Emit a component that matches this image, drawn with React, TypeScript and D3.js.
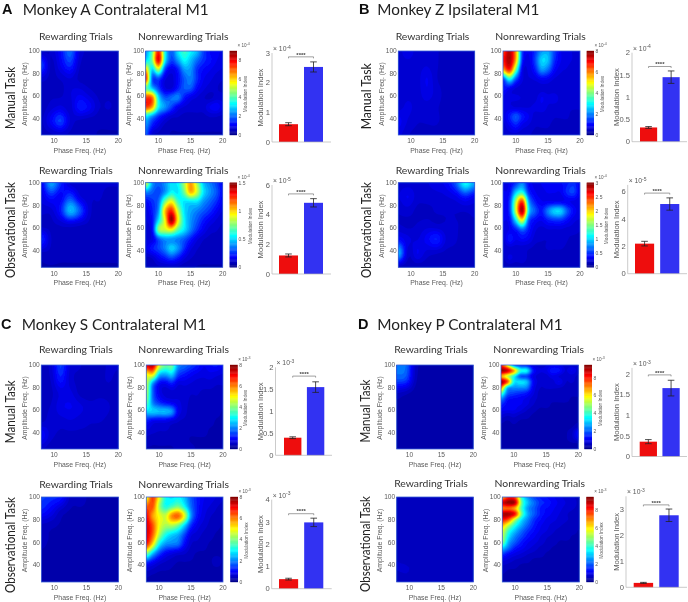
import React, { useMemo } from "react";
import * as d3 from "d3";

// ---------- data (values are % of each colourbar's range) ----------
const rewardA1 = [[8,9,16,26,11,8,7,7,7],[22,8,14,20,9,8,8,8,8],[10,8,9,11,8,7,7,7,8],[7,8,8,11,13,10,8,8,8],[7,10,12,10,18,15,9,9,8],[8,15,22,11,8,7,7,7,7],[7,8,9,8,7,7,6,6,6]];
const nonA1 = [[30,48,85,42,24,38,45,40,34,22,16,15,13],[38,50,90,40,22,30,40,34,26,20,17,14,12],[70,36,55,22,13,18,30,30,20,16,14,12,11],[85,25,22,12,10,16,24,28,20,14,12,10,9],[50,35,22,12,11,18,24,24,16,12,10,9,8],[82,78,38,24,26,28,18,13,11,9,8,10,10],[82,72,40,30,22,14,11,10,10,10,14,16,12],[40,30,20,14,10,9,8,8,8,8,9,9,8],[30,18,12,8,7,7,7,7,7,7,7,7,7],[25,10,8,7,6,6,6,6,6,6,6,6,6]];
const rewardA2 = [[14,32,20,10,9,9,9,9,9],[12,18,15,22,12,9,9,8,8],[10,10,18,34,24,10,8,8,8],[7,8,9,10,9,8,7,7,7],[20,9,8,8,8,8,8,8,7],[8,8,7,7,7,7,7,7,7],[6,6,6,6,6,6,6,6,6]];
const nonA2 = [[62,32,25,30,38,40,55,72,55,35,28,22,15],[30,25,22,30,40,38,50,70,58,38,30,24,16],[16,20,26,50,62,45,38,38,38,30,25,20,14],[12,18,30,68,85,58,38,32,28,24,20,15,11],[11,16,38,62,98,64,40,30,24,18,14,11,9],[10,15,52,58,62,48,38,28,20,14,10,9,8],[11,12,24,30,30,28,24,18,12,9,8,8,7],[13,18,22,28,36,30,20,12,9,8,7,7,7],[8,9,14,18,22,18,12,9,8,7,7,7,7],[6,7,8,8,8,8,7,7,6,6,6,6,6]];
const rewardB1 = [[10,13,10,10,9,8,8,8,8],[10,10,10,11,9,8,8,8,8],[9,9,10,14,9,8,8,8,8],[9,10,10,13,10,8,8,8,8],[10,12,10,10,9,8,8,8,8],[15,11,9,9,9,8,8,8,8],[12,9,8,8,8,7,7,7,7]];
const nonB1 = [[80,95,72,22,14,20,30,32,22,14,12,11,10],[85,96,70,20,13,22,36,34,20,14,12,11,10],[70,85,50,14,12,18,30,26,16,12,11,10,10],[22,42,24,12,11,12,15,14,11,10,10,10,9],[18,15,11,10,10,9,10,10,9,9,9,9,9],[13,12,12,11,10,10,14,12,13,10,9,9,9],[12,12,11,11,11,12,13,11,10,10,9,9,9],[12,18,24,18,14,10,10,10,9,9,9,8,8],[10,14,18,13,11,9,9,9,8,8,8,8,8],[9,10,10,9,9,8,8,8,8,8,8,7,7]];
const rewardB2 = [[10,10,10,11,13,15,24,42,32],[11,14,10,10,10,11,13,18,14],[9,10,8,8,9,9,9,9,10],[9,8,9,10,9,9,9,8,8],[16,12,11,15,19,11,9,8,8],[34,10,14,10,9,8,8,8,8],[7,7,7,7,7,7,7,7,7]];
const nonB2 = [[12,14,20,28,16,13,14,16,16,16,18,20,14],[14,16,35,42,20,14,13,14,14,14,20,22,14],[14,20,55,82,32,18,14,14,14,14,14,13,12],[14,20,58,96,38,24,18,28,36,36,24,16,12],[14,16,38,62,24,16,14,18,20,20,16,12,11],[11,14,18,26,18,12,10,11,11,11,10,10,9],[10,18,14,16,14,10,9,9,11,11,9,8,8],[9,10,10,10,9,8,8,9,9,9,8,8,8],[8,12,10,11,8,8,7,7,7,7,7,7,7],[7,7,7,7,7,7,7,7,7,7,7,7,7]];
const rewardC1 = [[8,10,22,11,9,8,8,9,9],[8,9,18,10,8,8,8,9,8],[7,8,12,12,8,7,8,8,7],[8,9,13,14,12,10,10,9,7],[8,10,10,11,10,9,9,8,7],[16,10,8,8,8,8,7,7,7],[9,7,7,7,7,7,7,7,7]];
const nonC1 = [[90,95,62,50,50,30,26,22,18,14,16,17,14],[62,65,36,32,36,22,18,15,13,12,13,12,11],[58,30,16,14,18,12,12,11,10,10,10,9,9],[56,26,14,10,10,10,10,9,9,8,8,8,8],[50,28,20,16,14,12,10,8,8,7,7,7,7],[36,36,34,34,30,14,10,7,7,7,7,7,6],[18,14,13,13,11,9,8,7,7,7,7,6,6],[11,10,9,9,8,8,7,7,7,7,6,6,6],[8,7,7,7,7,7,7,6,6,6,6,6,6],[6,6,6,6,6,7,8,7,6,6,6,6,6]];
const rewardC2 = [[22,20,18,8,7,6,6,6,6],[18,14,8,6,6,6,6,6,6],[8,7,6,6,6,5,5,5,5],[7,6,6,6,5,5,5,5,5],[6,6,6,5,5,5,5,5,5],[6,6,5,5,5,5,5,5,5],[5,5,5,5,5,5,5,5,5]];
const nonC2 = [[60,82,62,42,38,40,34,24,18,14,13,11,9],[78,80,55,42,46,50,40,26,18,13,11,9,8],[88,72,62,58,74,78,60,30,17,12,9,8,7],[92,80,62,55,56,50,36,20,13,10,8,7,6],[92,78,56,42,36,32,22,12,10,8,7,6,6],[85,65,40,30,28,26,16,9,8,7,6,6,6],[52,34,22,15,12,10,9,7,6,6,6,6,6],[18,14,10,8,7,6,6,6,6,6,6,7,6],[8,7,6,6,6,6,5,5,5,5,5,5,5],[6,5,5,5,5,5,5,5,5,5,5,5,5]];
const rewardD1 = [[28,26,8,6,5,5,5,5,5],[24,22,7,5,5,5,5,5,5],[9,7,5,5,5,5,5,5,5],[5,5,5,5,5,5,5,5,5],[5,5,5,5,5,5,5,5,5],[5,5,5,5,5,5,5,5,5],[5,5,5,5,5,5,5,5,5]];
const nonD1 = [[85,60,28,20,18,12,10,11,14,13,10,10,9],[98,92,72,44,40,18,12,13,18,17,11,14,10],[72,58,42,24,22,13,10,10,13,11,9,10,8],[98,80,40,38,34,16,10,10,10,14,9,9,8],[76,36,30,30,28,14,9,9,9,9,8,8,7],[50,26,22,20,18,12,8,8,8,8,7,7,7],[30,18,16,15,13,10,8,7,7,7,7,6,6],[20,15,14,14,12,9,7,7,6,6,6,6,6],[15,14,14,12,9,7,6,6,6,6,6,6,6],[11,9,10,8,7,6,6,6,6,6,6,6,6],[7,6,7,6,6,6,6,6,6,6,6,6,6],[6,6,6,6,6,6,6,6,6,6,6,6,8],[6,6,6,6,6,6,6,6,6,6,6,8,16],[6,6,6,6,6,6,6,6,6,6,6,8,14],[6,6,6,6,6,6,6,6,6,6,6,6,6],[6,6,6,6,6,6,6,6,6,6,6,6,6]];
const rewardD2 = [[8,8,8,8,7,7,7,7,7],[7,7,7,7,7,7,7,7,7],[7,7,7,7,8,7,7,7,7],[7,7,7,7,8,8,7,7,7],[8,7,7,7,7,7,7,7,7],[9,9,8,7,7,7,7,7,7],[7,8,7,7,7,7,7,7,7]];
const nonD2 = [[70,85,80,45,30,22,18,16,14,12,10,9,8],[92,98,94,50,34,26,20,18,15,13,11,10,8],[76,78,70,46,30,24,18,16,14,12,10,9,8],[96,96,86,50,32,24,18,15,13,11,9,8,7],[86,78,56,38,28,20,16,13,12,10,9,8,7],[70,56,42,32,24,18,14,12,10,9,8,7,7],[60,44,34,26,20,16,13,11,9,8,7,7,6],[56,38,28,22,17,14,11,9,8,7,7,6,6],[52,32,24,18,14,12,10,8,7,6,6,6,6],[36,26,18,15,12,10,8,7,6,6,6,6,6],[22,16,13,11,9,8,7,6,6,6,6,6,6],[13,11,9,8,7,6,6,6,6,6,6,6,6],[9,8,7,6,6,6,6,6,6,6,6,6,6],[7,6,6,6,6,6,6,6,6,6,6,6,6],[6,6,6,6,6,6,6,6,6,6,6,6,6],[6,6,6,6,6,6,6,6,6,6,6,6,6]];

const barCategories = ["Rewarding", "Nonrewarding"];
const barsA1 = [0.6, 2.53]; const errA1 = [0.05, 0.17];
const barsA2 = [1.25, 4.8]; const errA2 = [0.1, 0.28];
const barsB1 = [0.32, 1.45]; const errB1 = [0.02, 0.14];
const barsB2 = [2.2, 5.1]; const errB2 = [0.17, 0.45];
const barsC1 = [0.4, 1.55]; const errC1 = [0.02, 0.12];
const barsC2 = [0.43, 2.98]; const errC2 = [0.04, 0.19];
const barsD1 = [0.36, 1.66]; const errD1 = [0.05, 0.19];
const barsD2 = [0.17, 2.77]; const errD2 = [0.02, 0.24];

const panelTitles = ["Monkey A Contralateral M1", "Monkey Z Ipsilateral M1", "Monkey S Contralateral M1", "Monkey P Contralateral M1"];
const panelLetters = ["A", "B", "C", "D"];
const rowLabels = ["Manual Task", "Observational Task"];
const mapTitles = ["Rewarding Trials", "Nonrewarding Trials"];
const phaseTicks = [10, 15, 20];
const ampTicks = [40, 60, 80, 100];

const LS = "'Liberation Sans', Arial, sans-serif";
const TF = "Lato, 'Open Sans', sans-serif";
const GREY = "#5a5a5a";

const jet = d3.scaleLinear<string>()
  .domain([0, 12.5, 37.5, 62.5, 87.5, 100])
  .range(["#000084", "#0000ff", "#00ffff", "#ffff00", "#ff0000", "#800000"])
  .clamp(true);
const heatColor = d3.scaleLinear<string>()
  .domain([0, 16, 40, 62.5, 87.5, 100])
  .range(["#000084", "#0000ff", "#00ffff", "#ffff00", "#ff0000", "#800000"])
  .clamp(true);

const levels = d3.range(1.25, 100, 2.5);

function cr(p0: number, p1: number, p2: number, p3: number, t: number) {
  return 0.5 * (2 * p1 + (p2 - p0) * t + (2 * p0 - 5 * p1 + 4 * p2 - p3) * t * t + (3 * p1 - p0 - 3 * p2 + p3) * t * t * t);
}
// display-only resampling of a coarse grid, so d3.contours draws smooth bands
function resample(grid: number[][], k: number) {
  const R = grid.length, C = grid[0].length;
  const W = (C - 1) * k + 1, H = (R - 1) * k + 1;
  const at = (r: number, c: number) => grid[Math.max(0, Math.min(R - 1, r))][Math.max(0, Math.min(C - 1, c))];
  const out = new Array(W * H);
  for (let j = 0; j < H; j++) {
    const ry = j / k, r = Math.min(R - 2, Math.floor(ry)), ty = ry - r;
    for (let i = 0; i < W; i++) {
      const cx = i / k, c = Math.min(C - 2, Math.floor(cx)), tx = cx - c;
      const rows = [-1, 0, 1, 2].map((d) => cr(at(r + d, c - 1), at(r + d, c), at(r + d, c + 1), at(r + d, c + 2), tx));
      out[j * W + i] = cr(rows[0], rows[1], rows[2], rows[3], ty);
    }
  }
  return { values: out, W, H };
}

function Heat({ id, grid, x0, x1, y0, y1, yLabelOffset = 17, title, titleDx, titleDy }: any) {
  const xs = d3.scaleLinear().domain([8, 20]).range([x0, x1]);
  const ys = d3.scaleLinear().domain([25, 100]).range([y1, y0]);
  const paths = useMemo(() => {
    const { values, W, H } = resample(grid, 4);
    const cs = d3.contours().size([W, H]).thresholds(levels)(values);
    const px = d3.scaleLinear().domain([0.5, W - 0.5]).range([8, 20]);
    const py = d3.scaleLinear().domain([0.5, H - 0.5]).range([100, 25]);
    const path = d3.geoPath(d3.geoTransform({
      point(this: any, x: number, y: number) { this.stream.point(xs(px(x)), ys(py(y))); },
    }));
    return cs.map((c) => ({ d: path(c as any) || "", v: c.value + 1.25 }));
  }, [grid, x0, x1, y0, y1]);
  return (
    <g>
      <clipPath id={id}><rect x={x0} y={y0} width={x1 - x0} height={y1 - y0} /></clipPath>
      <g clipPath={`url(#${id})`}>
        <rect x={x0} y={y0} width={x1 - x0} height={y1 - y0} fill={heatColor(0)} />
        {paths.map((p, i) => <path key={i} d={p.d} fill={heatColor(p.v)} />)}
      </g>
      <rect x={x0} y={y0} width={x1 - x0} height={y1 - y0} fill="none" stroke="#3f62d8" strokeWidth={0.8} />
      {phaseTicks.map((t) => (
        <text key={t} x={xs(t)} y={y1 + 8.3} textAnchor="middle" fontFamily={LS} fontSize={6.6} fill={GREY}>{t}</text>
      ))}
      {ampTicks.map((t) => (
        <text key={t} x={x0 - 1.5} y={ys(t) + 2.3} textAnchor="end" fontFamily={LS} fontSize={6.6} fill={GREY}>{t}</text>
      ))}
      <text x={(x0 + x1) / 2} y={y1 + 17.8} textAnchor="middle" fontFamily={LS} fontSize={6.9} fill={GREY}>Phase Freq. (Hz)</text>
      <text transform={`translate(${x0 - yLabelOffset + 2.2},${(y0 + y1) / 2 + 1}) rotate(-90)`} textAnchor="middle" fontFamily={LS} fontSize={6.9} fill={GREY}>Amplitude Freq. (Hz)</text>
      <text x={(x0 + x1) / 2 + titleDx} y={y0 + titleDy} textAnchor="middle" fontFamily={TF} fontSize={10.4} fill="#333">{title}</text>
    </g>
  );
}

function Colorbar({ x0, x1, y0, y1, max, ticks, exp, labelDx }: any) {
  const s = d3.scaleLinear().domain([0, max]).range([y1, y0]);
  const steps = d3.range(0, 100, 1);
  const h = (y1 - y0) / 100;
  return (
    <g>
      {steps.map((v) => (
        <rect key={v} x={x0} width={x1 - x0} y={y1 - (v + 1) * h - 0.2} height={h + 0.4} fill={jet(v + 0.5)} />
      ))}
      {ticks.map((t: number) => (
        <text key={t} x={x1 + 1.5} y={s(t) + 1.8} fontFamily={LS} fontSize={5} fill={GREY}>{t}</text>
      ))}
      <text x={x1 + 0.5} y={y0 - 4} fontFamily={LS} fontSize={4.6} fill={GREY}>{"× 10"}<tspan dy={-1.6} fontSize={3.6}>{exp}</tspan></text>
      <text transform={`translate(${x1 + labelDx},${(y0 + y1) / 2 + 1}) rotate(-90)`} textAnchor="middle" fontFamily={LS} fontSize={4.8} fill={GREY}>Modulation Index</text>
    </g>
  );
}

function Bars({ axisX, right, barL, barR, y0, yTopPx, yMaxV, ticks, values, errs, exp, bracket, labelX }: any) {
  const y = d3.scaleLinear().domain([0, yMaxV]).range([y0, yTopPx]);
  const x = d3.scaleBand<string>().domain(barCategories).range([barL, barR]).paddingInner(0.24);
  const colors = ["#ee0f0f", "#3232f2"];
  const bw = x.bandwidth();
  const cx = (c: string) => (x(c) as number) + bw / 2;
  const by = y(bracket);
  const bl = cx(barCategories[0]), br = cx(barCategories[1]);
  return (
    <g>
      {barCategories.map((c, i) => (
        <rect key={c} x={x(c)} y={y(values[i])} width={bw} height={y0 - y(values[i])} fill={colors[i]} />
      ))}
      {barCategories.map((c, i) => (
        <path key={c} d={`M${cx(c) - 3.3},${y(values[i] + errs[i])}H${cx(c) + 3.3}M${cx(c)},${y(values[i] + errs[i])}V${y(values[i] - errs[i])}M${cx(c) - 3.3},${y(values[i] - errs[i])}H${cx(c) + 3.3}`} fill="none" stroke="#222" strokeWidth={0.8} />
      ))}
      <path d={`M${axisX},${yTopPx}V${y0}H${right}`} fill="none" stroke="#b5b5b5" strokeWidth={0.7} />
      {ticks.map((t: number) => (
        <text key={t} x={axisX - 2} y={y(t) + 2.7} textAnchor="end" fontFamily={LS} fontSize={7.6} fill={GREY}>{t}</text>
      ))}
      <text x={axisX + 1} y={yTopPx - 2} fontFamily={LS} fontSize={6.8} fill={GREY}>{"× 10"}<tspan dy={-2.4} fontSize={5}>{exp}</tspan></text>
      <text transform={`translate(${labelX},${(y0 + yTopPx) / 2}) rotate(-90)`} textAnchor="middle" fontFamily={LS} fontSize={7.6} fill={GREY}>Modulation Index</text>
      <path d={`M${bl},${by + 1.5}V${by}H${br}V${by + 1.5}`} fill="none" stroke="#777" strokeWidth={0.7} />
      <text x={(bl + br) / 2} y={by - 0.3} textAnchor="middle" fontFamily={LS} fontSize={6} fontWeight="bold" fill="#444">****</text>
    </g>
  );
}

// layout of the eight figure rows
const rows = [
  { key: "A1", reward: rewardA1, non: nonA1, rx: [41.3, 118.3], nx: [145.7, 222.7], y: [51, 135], cb: [229.6, 237], cmax: 8.96, cticks: [0, 2, 4, 6, 8], cexp: "-4", clab: 10,
    titleDy: -11, bar: { axisX: 272, right: 331, barL: 279, barR: 323, y0: 142, yTopPx: 53, yMaxV: 3, ticks: [0, 1, 2, 3], values: barsA1, errs: errA1, exp: "-4", bracket: 2.87, labelX: 263 } },
  { key: "A2", reward: rewardA2, non: nonA2, rx: [41.3, 118.3], nx: [145.7, 222.7], y: [182.7, 267.3], cb: [229.6, 237], cmax: 1.5, cticks: [0, 0.5, 1, 1.5], cexp: "-4", clab: 14.5,
    titleDy: -9, bar: { axisX: 272, right: 331, barL: 279, barR: 323, y0: 274, yTopPx: 185, yMaxV: 6, ticks: [0, 2, 4, 6], values: barsA2, errs: errA2, exp: "-5", bracket: 5.4, labelX: 263 } },
  { key: "B1", reward: rewardB1, non: nonB1, rx: [398.3, 474.7], nx: [503, 580], y: [51, 135], cb: [586.7, 594], cmax: 8, cticks: [0, 2, 4, 6, 8], cexp: "-4", clab: 9.5,
    titleDy: -11, bar: { axisX: 632, right: 687, barL: 640, barR: 679.7, y0: 141.7, yTopPx: 52.7, yMaxV: 2, ticks: [0, 0.5, 1, 1.5, 2], values: barsB1, errs: errB1, exp: "-4", bracket: 1.69, labelX: 619 } },
  { key: "B2", reward: rewardB2, non: nonB2, rx: [398.3, 474.7], nx: [503, 580], y: [182.7, 267.3], cb: [586.7, 594], cmax: 3, cticks: [0, 0.5, 1, 1.5, 2, 2.5, 3], cexp: "-4", clab: 14,
    titleDy: -9, bar: { axisX: 627.7, right: 687, barL: 635, barR: 679.3, y0: 273.7, yTopPx: 184.9, yMaxV: 6.5, ticks: [0, 2, 4, 6], values: barsB2, errs: errB2, exp: "-5", bracket: 5.9, labelX: 619 } },
  { key: "C1", reward: rewardC1, non: nonC1, rx: [41.3, 118.3], nx: [146.3, 223], y: [365, 449], cb: [230, 237.7], cmax: 8, cticks: [0, 2, 4, 6, 8], cexp: "-3", clab: 9.5,
    titleDy: -12, bar: { axisX: 275.5, right: 332, barL: 284, barR: 324.3, y0: 455.3, yTopPx: 367.3, yMaxV: 2, ticks: [0, 0.5, 1, 1.5, 2], values: barsC1, errs: errC1, exp: "-3", bracket: 1.8, labelX: 263 } },
  { key: "C2", reward: rewardC2, non: nonC2, rx: [41.5, 118.5], nx: [146.3, 223], y: [497, 582], cb: [230.3, 238], cmax: 8, cticks: [0, 2, 4, 6, 8], cexp: "-3", clab: 9.5,
    titleDy: -9, bar: { axisX: 271.7, right: 331.7, barL: 279, barR: 323.3, y0: 588.7, yTopPx: 499.7, yMaxV: 4, ticks: [0, 1, 2, 3, 4], values: barsC2, errs: errC2, exp: "-3", bracket: 3.37, labelX: 263 } },
  { key: "D1", reward: rewardD1, non: nonD1, rx: [396.7, 473.3], nx: [501, 578.3], y: [365, 449], cb: [584.3, 592], cmax: 9.45, cticks: [0, 2, 4, 6, 8], cexp: "-3", clab: 10,
    titleDy: -12, bar: { axisX: 632, right: 687, barL: 639.7, barR: 679.7, y0: 456.5, yTopPx: 367.9, yMaxV: 2.15, ticks: [0, 0.5, 1, 1.5, 2], values: barsD1, errs: errD1, exp: "-3", bracket: 1.98, labelX: 619 } },
  { key: "D2", reward: rewardD2, non: nonD2, rx: [396.7, 473.3], nx: [502.3, 579.3], y: [497, 582], cb: [586.3, 593.7], cmax: 9.45, cticks: [0, 2, 4, 6, 8], cexp: "-3", clab: 9.5,
    titleDy: -10, bar: { axisX: 626, right: 687, barL: 633.7, barR: 678.7, y0: 587.3, yTopPx: 496.3, yMaxV: 3.5, ticks: [0, 1, 2, 3], values: barsD2, errs: errD2, exp: "-3", bracket: 3.17, labelX: 619 } },
];

const heads = [
  { lx: 2, tx: 22.7, tw: 186, y: 14.8 },
  { lx: 359, tx: 377.3, tw: 162, y: 14.8 },
  { lx: 1, tx: 21.7, tw: 184.5, y: 329.5 },
  { lx: 358, tx: 377.3, tw: 185.5, y: 329.5 },
];
const rowLabelPos = [
  { x: 14.5, y: 98, w: 62 }, { x: 15, y: 230, w: 96 }, { x: 370.5, y: 96.3, w: 66 }, { x: 371, y: 230, w: 96 },
  { x: 14.5, y: 411.7, w: 63 }, { x: 14.5, y: 545, w: 96 }, { x: 369.5, y: 411, w: 63 }, { x: 369.5, y: 544, w: 96 },
];

export default function App() {
  return (
    <svg width={688} height={602} viewBox="0 0 688 602" style={{ position: "absolute", left: 0, top: 0, background: "#fff" }}>
      <defs>
        <filter id="soft" x="0" y="0" width="688" height="602" filterUnits="userSpaceOnUse" primitiveUnits="userSpaceOnUse">
          <feGaussianBlur stdDeviation={0.35} />
        </filter>
      </defs>
      <g filter="url(#soft)">
        <rect width={688} height={602} fill="#fff" />
        {heads.map((h, i) => (
          <g key={i}>
            <text x={h.lx} y={h.y - 1} fontFamily={LS} fontWeight="bold" fontSize={14.5} fill="#111">{panelLetters[i]}</text>
            <text x={h.tx} y={h.y} fontFamily={TF} fontSize={15} fill="#222" textLength={h.tw} lengthAdjust="spacingAndGlyphs">{panelTitles[i]}</text>
          </g>
        ))}
        {rows.map((r, i) => (
          <g key={r.key}>
            <text transform={`translate(${rowLabelPos[i].x},${rowLabelPos[i].y}) rotate(-90)`} textAnchor="middle" fontFamily={TF} fontSize={13.4} fill="#222" textLength={rowLabelPos[i].w} lengthAdjust="spacingAndGlyphs">{rowLabels[i % 2]}</text>
            <Heat id={`r${r.key}`} grid={r.reward} x0={r.rx[0]} x1={r.rx[1]} y0={r.y[0]} y1={r.y[1]} title={mapTitles[0]} titleDx={-4} titleDy={r.titleDy} />
            <Heat id={`n${r.key}`} grid={r.non} x0={r.nx[0]} x1={r.nx[1]} y0={r.y[0]} y1={r.y[1]} title={mapTitles[1]} titleDx={-1} titleDy={r.titleDy} />
            <Colorbar x0={r.cb[0]} x1={r.cb[1]} y0={r.y[0]} y1={r.y[1]} max={r.cmax} ticks={r.cticks} exp={r.cexp} labelDx={r.clab} />
            <Bars {...r.bar} />
          </g>
        ))}
      </g>
    </svg>
  );
}
